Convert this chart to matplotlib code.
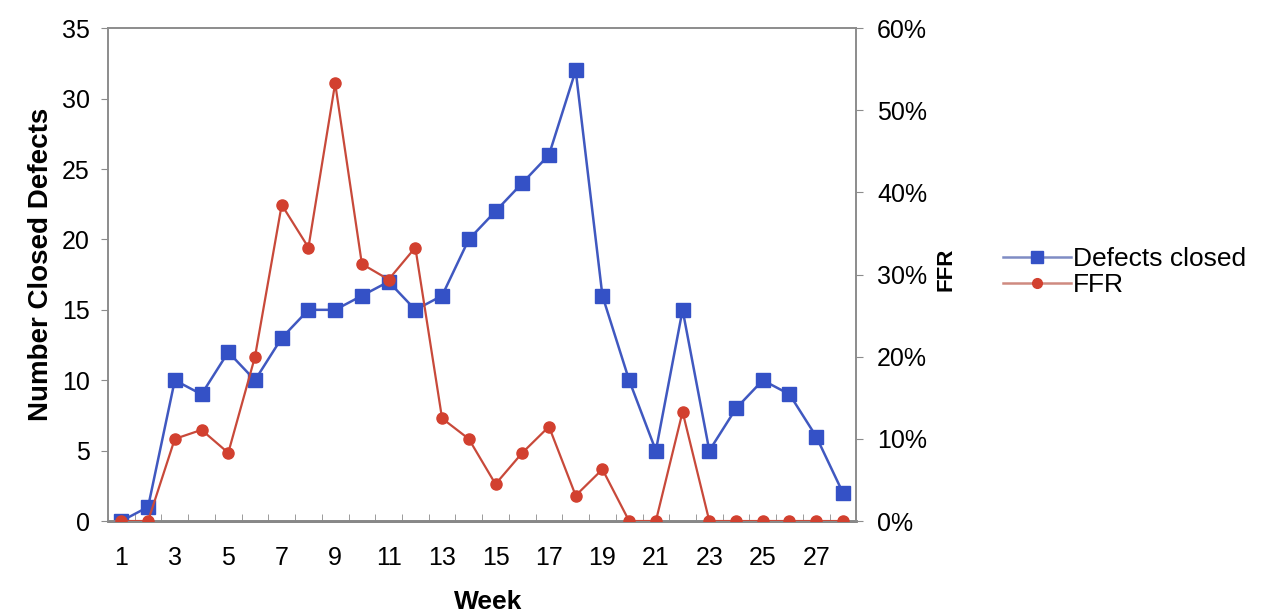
import numpy as np
import matplotlib
matplotlib.use('Agg')
import matplotlib.pyplot as plt
from matplotlib.lines import Line2D
from matplotlib.ticker import FuncFormatter, MultipleLocator, FixedLocator

plt.rcParams['font.family'] = ['Liberation Sans', 'DejaVu Sans']

# weekly numbers
weeks = list(range(1, 29))
defects_closed = [0, 1, 10, 9, 12, 10, 13, 15, 15, 16, 17, 15, 16, 20,
                  22, 24, 26, 32, 16, 10, 5, 15, 5, 8, 10, 9, 6, 2]
ffr_pct = [0, 0, 10.0, 11.1, 8.3, 20.0, 38.5, 33.3, 53.3, 31.3, 29.4, 33.3,
           12.5, 10.0, 4.5, 8.3, 11.5, 3.1, 6.3, 0, 0, 13.3,
           0, 0, 0, 0, 0, 0]
week_labels = [str(w) if w % 2 == 1 else '' for w in weeks]

BLUE = '#3451c6'
BLUE_LINE = '#4058c0'
RED = '#d2402f'
RED_LINE = '#c8493a'
AXIS = '#8c8c8c'

fig = plt.figure(figsize=(12.63, 6.13), dpi=100)
ax = fig.add_axes([0.0855, 0.150, 0.5925, 0.804])
ax2 = ax.twinx()

x = np.arange(len(weeks))
ax.plot(x, defects_closed, color=BLUE_LINE, linewidth=1.8, marker='s',
        markersize=10, markerfacecolor=BLUE, markeredgecolor=BLUE, zorder=3)
ax2.plot(x, np.array(ffr_pct) / 100, color=RED_LINE, linewidth=1.6,
         marker='o', markersize=8, markerfacecolor=RED,
         markeredgecolor=RED, zorder=3)

ax.set_xlim(-0.5, len(weeks) - 0.5)
ax.set_ylim(0, 35)
ax2.set_ylim(0, 0.6)

ax.yaxis.set_major_locator(MultipleLocator(5))
ax2.yaxis.set_major_locator(MultipleLocator(0.1))
ax2.yaxis.set_major_formatter(FuncFormatter(lambda v, _: f'{v * 100:.0f}%'))

# week labels under categories, tick marks at category boundaries
ax.set_xticks(x)
ax.set_xticklabels(week_labels)
ax.tick_params(axis='x', length=0, pad=18, labelsize=18)
ax.xaxis.set_minor_locator(FixedLocator(np.arange(-0.5, len(weeks), 1.0)))
ax.tick_params(axis='x', which='minor', length=5, direction='in',
               color=AXIS)

ax.tick_params(axis='y', length=5, color=AXIS, labelsize=18, pad=8)
ax2.tick_params(axis='y', length=5, color=AXIS, labelsize=18, pad=10)

for a in (ax, ax2):
    for s in a.spines.values():
        s.set_color(AXIS)
        s.set_linewidth(1.2)
ax.spines['bottom'].set_linewidth(2.0)
ax.spines['bottom'].set_color('#7a7a7a')

ax.set_xlabel('Week', fontsize=19, fontweight='bold')
ax.xaxis.set_label_coords(0.508, -0.140)
ax.set_ylabel('Number Closed Defects', fontsize=20, fontweight='bold')
ax.yaxis.set_label_coords(-0.072, 0.52)
ax2.set_ylabel('FFR', fontsize=16, fontweight='bold', rotation=90)
ax2.yaxis.set_label_coords(1.106, 0.51)

legend_handles = [
    Line2D([], [], color='#7f8cc4', linewidth=1.8, marker='s', markersize=9,
           markerfacecolor=BLUE, markeredgecolor=BLUE),
    Line2D([], [], color='#cf8a80', linewidth=1.8, marker='o', markersize=7,
           markerfacecolor=RED, markeredgecolor=RED),
]
fig.legend(legend_handles, ['Defects closed', 'FFR'], loc='center left',
           bbox_to_anchor=(0.794, 0.556), frameon=False, fontsize=19,
           handlelength=2.6, handletextpad=0.05, labelspacing=0.08,
           borderpad=0, borderaxespad=0)

fig.savefig('out.png', dpi=100)
